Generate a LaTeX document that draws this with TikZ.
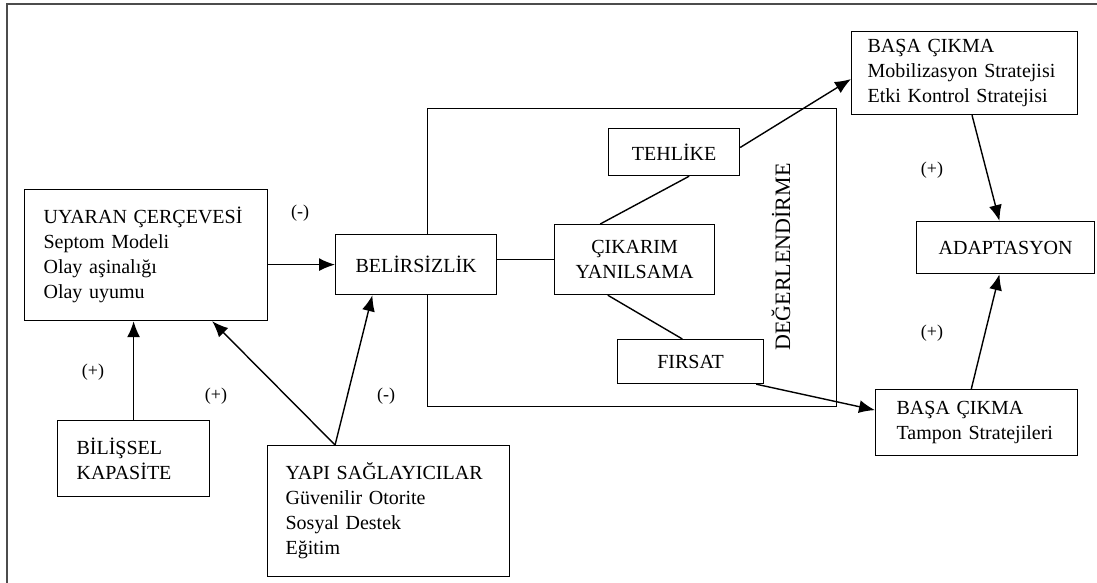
\documentclass[tikz,border=0pt]{standalone}
\usepackage{fontspec}
\setmainfont{Liberation Serif}
\usetikzlibrary{arrows.meta}
\tikzset{
  font=\fontsize{20}{25}\selectfont,
  >={Latex[length=16pt,width=13pt]},
  box/.style={draw=black, line width=1.2pt, fill=white, inner ysep=0pt, anchor=north west},
  lbox/.style={box, align=left, inner xsep=19pt},
  cbox/.style={box, align=center, inner xsep=0pt},
  sign/.style={font=\fontsize{18}{20}\selectfont, inner sep=1pt},
  link/.style={draw=black, line width=1.4pt},
  flow/.style={link, ->},
  edge/.style={draw=black!70, line width=1.8pt},
}
\begin{document}
\begin{tikzpicture}[x=1pt,y=-1pt]
\useasboundingbox (0,0) rectangle (1097,583);
% page edge (left and top only)
\draw[edge] (7,583) -- (7,4) -- (1097,4);
% appraisal frame
\node[draw=black, line width=1.2pt, minimum width=409pt, minimum height=298pt, inner sep=0pt, anchor=north west] (degframe) at (427,108) {};
\node[rotate=90, inner sep=0pt, font=\fontsize{22}{25}\selectfont] (deg) at (781,257) {DEĞERLENDİRME};
% left column
\node[lbox, text width=205pt, minimum height=131pt] (uyaran) at (24,189)
  {UYARAN ÇERÇEVESİ\\Septom Modeli\\Olay aşinalığı\\Olay uyumu};
\node[lbox, text width=114pt, minimum height=76pt] (bilissel) at (57,420)
  {BİLİŞSEL\\KAPASİTE};
\node[lbox, inner xsep=18pt, text width=206pt, minimum height=131pt] (yapi) at (267,445)
  {YAPI SAĞLAYICILAR\\Güvenilir Otorite\\Sosyal Destek\\Eğitim};
% middle
\node[cbox, minimum width=161pt, minimum height=60pt] (belirsizlik) at (335,234) {BELİRSİZLİK};
\node[cbox, minimum width=131pt, minimum height=47pt] (tehlike) at (608,128) {TEHLİKE};
\node[cbox, minimum width=160pt, minimum height=70pt] (cikarim) at (554,224) {ÇIKARIM\\YANILSAMA};
\node[cbox, minimum width=146pt, minimum height=44pt] (firsat) at (617,339) {FIRSAT};
% right column
\node[lbox, inner xsep=16pt, text width=194pt, minimum height=83pt] (basa1) at (851,31)
  {BAŞA ÇIKMA\\\mbox{Mobilizasyon Stratejisi}\\Etki Kontrol Stratejisi};
\node[cbox, minimum width=178pt, minimum height=52pt] (adaptasyon) at (916,221) {ADAPTASYON};
\node[lbox, inner xsep=21pt, text width=160pt, minimum height=66pt] (basa2) at (875,389)
  {BAŞA ÇIKMA\\\mbox{Tampon Stratejileri}};
% connectors
\draw[flow] (uyaran.east |- belirsizlik.west) -- (belirsizlik.west);
\draw[flow] (bilissel.north) -- (bilissel.north |- uyaran.south);
\draw[flow] (yapi.129) -- (uyaran.-45);
\draw[flow] (yapi.129) -- (belirsizlik.-145);
\draw[link] (belirsizlik.east |- cikarim.west) -- (cikarim.west);
\draw[link] (tehlike.-58) -- (cikarim.134);
\draw[link] (cikarim.-127) -- (firsat.110);
\draw[flow] (tehlike.4) -- (basa1.-177);
\draw[flow] (firsat.-19) -- (basa2.173);
\draw[flow] (basa1.-80) -- (adaptasyon.103);
\draw[flow] (basa2.99) -- (adaptasyon.-103);
% signs
\node[sign] (s1) at (300,213) {(-)};
\node[sign] (s2) at (93,372) {(+)};
\node[sign] (s3) at (216,396) {(+)};
\node[sign] (s4) at (386,396) {(-)};
\node[sign] (s5) at (932,170) {(+)};
\node[sign] (s6) at (932,333) {(+)};
\end{tikzpicture}
\end{document}
